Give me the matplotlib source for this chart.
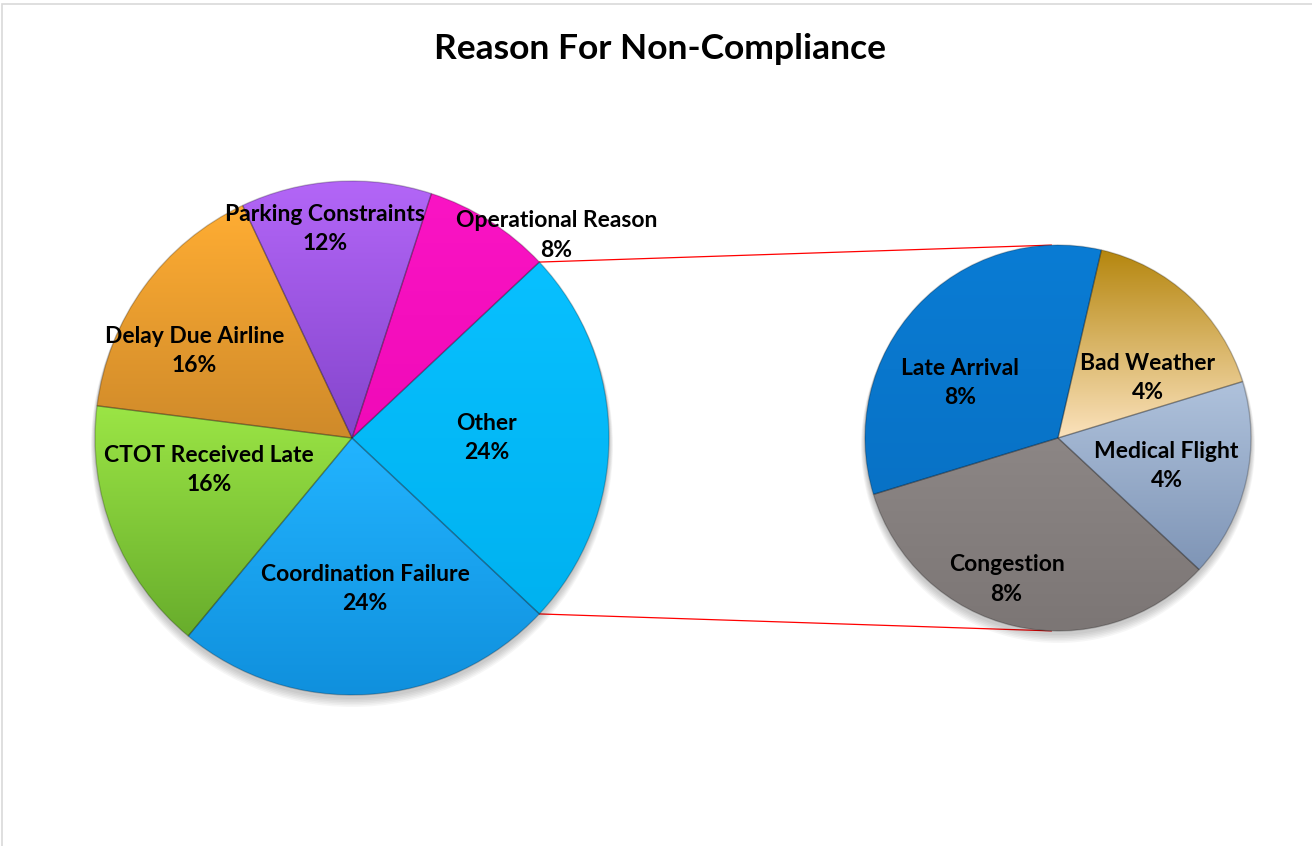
import numpy as np
import matplotlib
matplotlib.use("Agg")
import matplotlib.pyplot as plt
from matplotlib.colors import to_rgb
from matplotlib.patches import Rectangle, Circle

plt.rcParams["font.family"] = ["Lato", "DejaVu Sans"]

# main pie (clockwise from the "Other" slice)
main_labels = ["Other", "Coordination Failure", "CTOT Received Late",
               "Delay Due Airline", "Parking Constraints", "Operational Reason"]
main_values = [24, 24, 16, 16, 12, 8]

# breakdown of "Other"
sub_labels = ["Bad Weather", "Medical Flight", "Congestion", "Late Arrival"]
sub_values = [4, 4, 8, 8]

# gradient colours: (top, bottom)
main_colors = [("#08C0FF", "#00B2F0"), ("#22B4FF", "#1090DD"), ("#9BE545", "#68AD2C"),
               ("#FFAD33", "#CF8A2A"), ("#B366F7", "#8445CC"), ("#FA14C4", "#F00AB8")]
sub_colors = [("#B5860E", "#FBE2BC"), ("#AFC2DC", "#7F95B6"),
              ("#8C8685", "#7C7675"), ("#0A7CD4", "#0872C6")]

main_lab_pos = [(0.525, 0), (0.59, 1.4), (0.57, -8.9), (0.70, 7), (0.82, 3.8), (1.12, -12.9)]
sub_lab_pos = [(0.56, -13.3), (0.58, -1.4), (0.78, -7), (0.58, 13.7)]

W, H = 1312, 846
fig = plt.figure(figsize=(W / 100, H / 100), dpi=100)
ax = fig.add_axes([0, 0, 1, 1])

main_c, main_r = (352, H - 438), 257
sub_c, sub_r = (1058, H - 438), 193
main_start = 43.2
sub_start = 77


def gradient_fill(ax, wedges, colors):
    for w, (top, bot) in zip(wedges, colors):
        ext = w.get_path().get_extents()
        t = np.linspace(0, 1, 100)[:, None]
        c1, c2 = np.array(to_rgb(top)), np.array(to_rgb(bot))
        img = (c1 * (1 - t) + c2 * t)[:, None, :] * np.ones((1, 2, 1))
        im = ax.imshow(img, extent=[ext.x0, ext.x1, ext.y0, ext.y1], origin="upper",
                       interpolation="bilinear", zorder=2, aspect="auto")
        im.set_clip_path(w)
        w.set_facecolor("none")
        w.set_zorder(3)


def add_labels(ax, wedges, labels, values, pos, center, r):
    for w, lab, v, (f, da) in zip(wedges, labels, values, pos):
        ang = np.deg2rad((w.theta1 + w.theta2) / 2 + da)
        x = center[0] + f * r * np.cos(ang)
        y = center[1] + f * r * np.sin(ang)
        ax.text(x, y, f"{lab}\n{v}%", ha="center", va="center", fontsize=16.5,
                fontweight="bold", linespacing=1.5, zorder=5)


def soft_shadow(ax, center, r):
    for k in range(6):
        ax.add_patch(Circle((center[0], center[1] - 3 - k), r + 1 + k * 0.6,
                            color="black", alpha=0.035, lw=0, zorder=1.5))


soft_shadow(ax, main_c, main_r)
soft_shadow(ax, sub_c, sub_r)

wp = dict(edgecolor=(0, 0, 0, 0.22), linewidth=1.0)
mw, _ = ax.pie(main_values, center=main_c, radius=main_r, startangle=main_start,
               counterclock=False, wedgeprops=wp, frame=True)
sw, _ = ax.pie(sub_values, center=sub_c, radius=sub_r, startangle=sub_start,
               counterclock=False, wedgeprops=wp, frame=True)
gradient_fill(ax, mw, main_colors)
gradient_fill(ax, sw, sub_colors)
add_labels(ax, mw, main_labels, main_values, main_lab_pos, main_c, main_r)
add_labels(ax, sw, sub_labels, sub_values, sub_lab_pos, sub_c, sub_r)

# connector lines from "Other" slice edges to the breakdown pie
for a_main, a_sub in [(mw[0].theta2, 92), (mw[0].theta1, -92)]:
    p1 = (main_c[0] + main_r * np.cos(np.deg2rad(a_main)),
          main_c[1] + main_r * np.sin(np.deg2rad(a_main)))
    p2 = (sub_c[0] + sub_r * np.cos(np.deg2rad(a_sub)),
          sub_c[1] + sub_r * np.sin(np.deg2rad(a_sub)))
    ax.plot([p1[0], p2[0]], [p1[1], p2[1]], color="red", lw=0.9, zorder=1)

ax.set_xlim(0, W)
ax.set_ylim(0, H)
ax.set_aspect("equal")
ax.axis("off")

ax.text(W / 2 + 4, H - 49, "Reason For Non-Compliance", ha="center", va="center",
        fontsize=25.5, fontweight="bold")

fig.patches.append(Rectangle((2, -10), W + 20, H - 4 + 10, transform=None,
                             fill=False, edgecolor="#D9D9D9", linewidth=1.2))

fig.savefig("out.png", dpi=100)
plt.close(fig)
